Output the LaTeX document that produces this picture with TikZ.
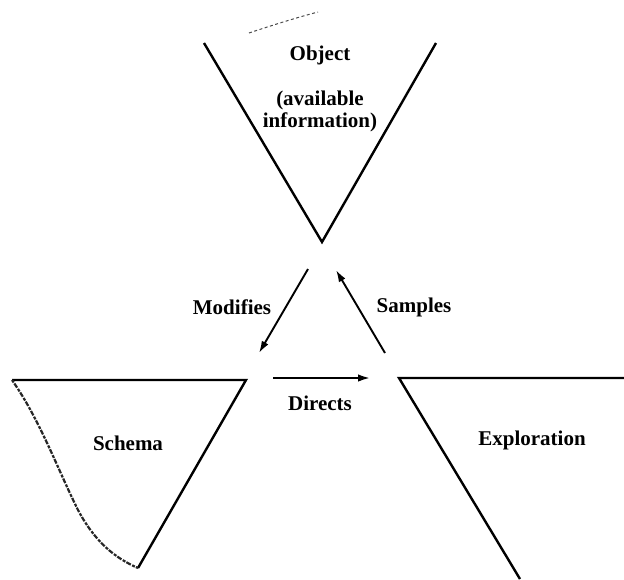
\documentclass[tikz,border=0pt]{standalone}
\usepackage{fontspec}
\setmainfont{Liberation Serif}
\usetikzlibrary{arrows.meta}
\begin{document}
\begin{tikzpicture}[x=1pt,y=-1pt,
  edge/.style={line width=2.4pt,line join=miter},
  flow/.style={line width=1.9pt,-{Latex[length=12pt,width=7.5pt]}},
  lbl/.style={font=\fontsize{21}{23}\selectfont\bfseries,inner sep=0pt,align=center},
  smudge/.style={line width=2.2pt,dash pattern=on 3pt off 1.2pt on 5pt off 1.5pt,black!85}]
\useasboundingbox (0,0) rectangle (624,579);
% corner coordinates of the three funnels
\coordinate (oL) at (204,43);
\coordinate (oB) at (322,242);
\coordinate (oR) at (436,43);
\coordinate (sL) at (12,380);
\coordinate (sR) at (246,380);
\coordinate (sB) at (138,568);
\coordinate (eL) at (399,378);
\coordinate (eR) at (624,378);
\coordinate (eB) at (520,579);
% funnels
\draw[edge] (oL) -- (oB) -- (oR);
\draw[edge] (sL) -- (sR) -- (sB);
\draw[edge] (eR) -- (eL) -- (eB);
% scan traces
\draw[smudge] (sL) .. controls (40,420) and (58,470) .. (78,510) .. controls (95,542) and (115,558) .. (sB);
\draw[line width=1pt,black!70,dash pattern=on 3pt off 2.5pt] (249,33) .. controls (270,26) and (295,18) .. (318,12);
% labels
\node[lbl] (obj) at (320,55) {Object};
\node[lbl] (avail) at (320,111) {(available\\[-1pt]information)};
\node[lbl] (sch) at (128,443) {Schema};
\node[lbl] (exp) at (532,440) {Exploration};
\node[lbl] (mod) at (232,307) {Modifies};
\node[lbl] (sam) at (414,307) {Samples};
\node[lbl] (dir) at (320,403) {Directs};
% arrow ends
\coordinate (mA) at (308,269);
\coordinate (mB) at (259,353);
\coordinate (pA) at (385,353);
\coordinate (pB) at (336,270);
\coordinate (dA) at (273,378);
\coordinate (dB) at (370,378);
\draw[flow] (mA) -- (mB);
\draw[flow] (pA) -- (pB);
\draw[flow] (dA) -- (dB);
\end{tikzpicture}
\end{document}
